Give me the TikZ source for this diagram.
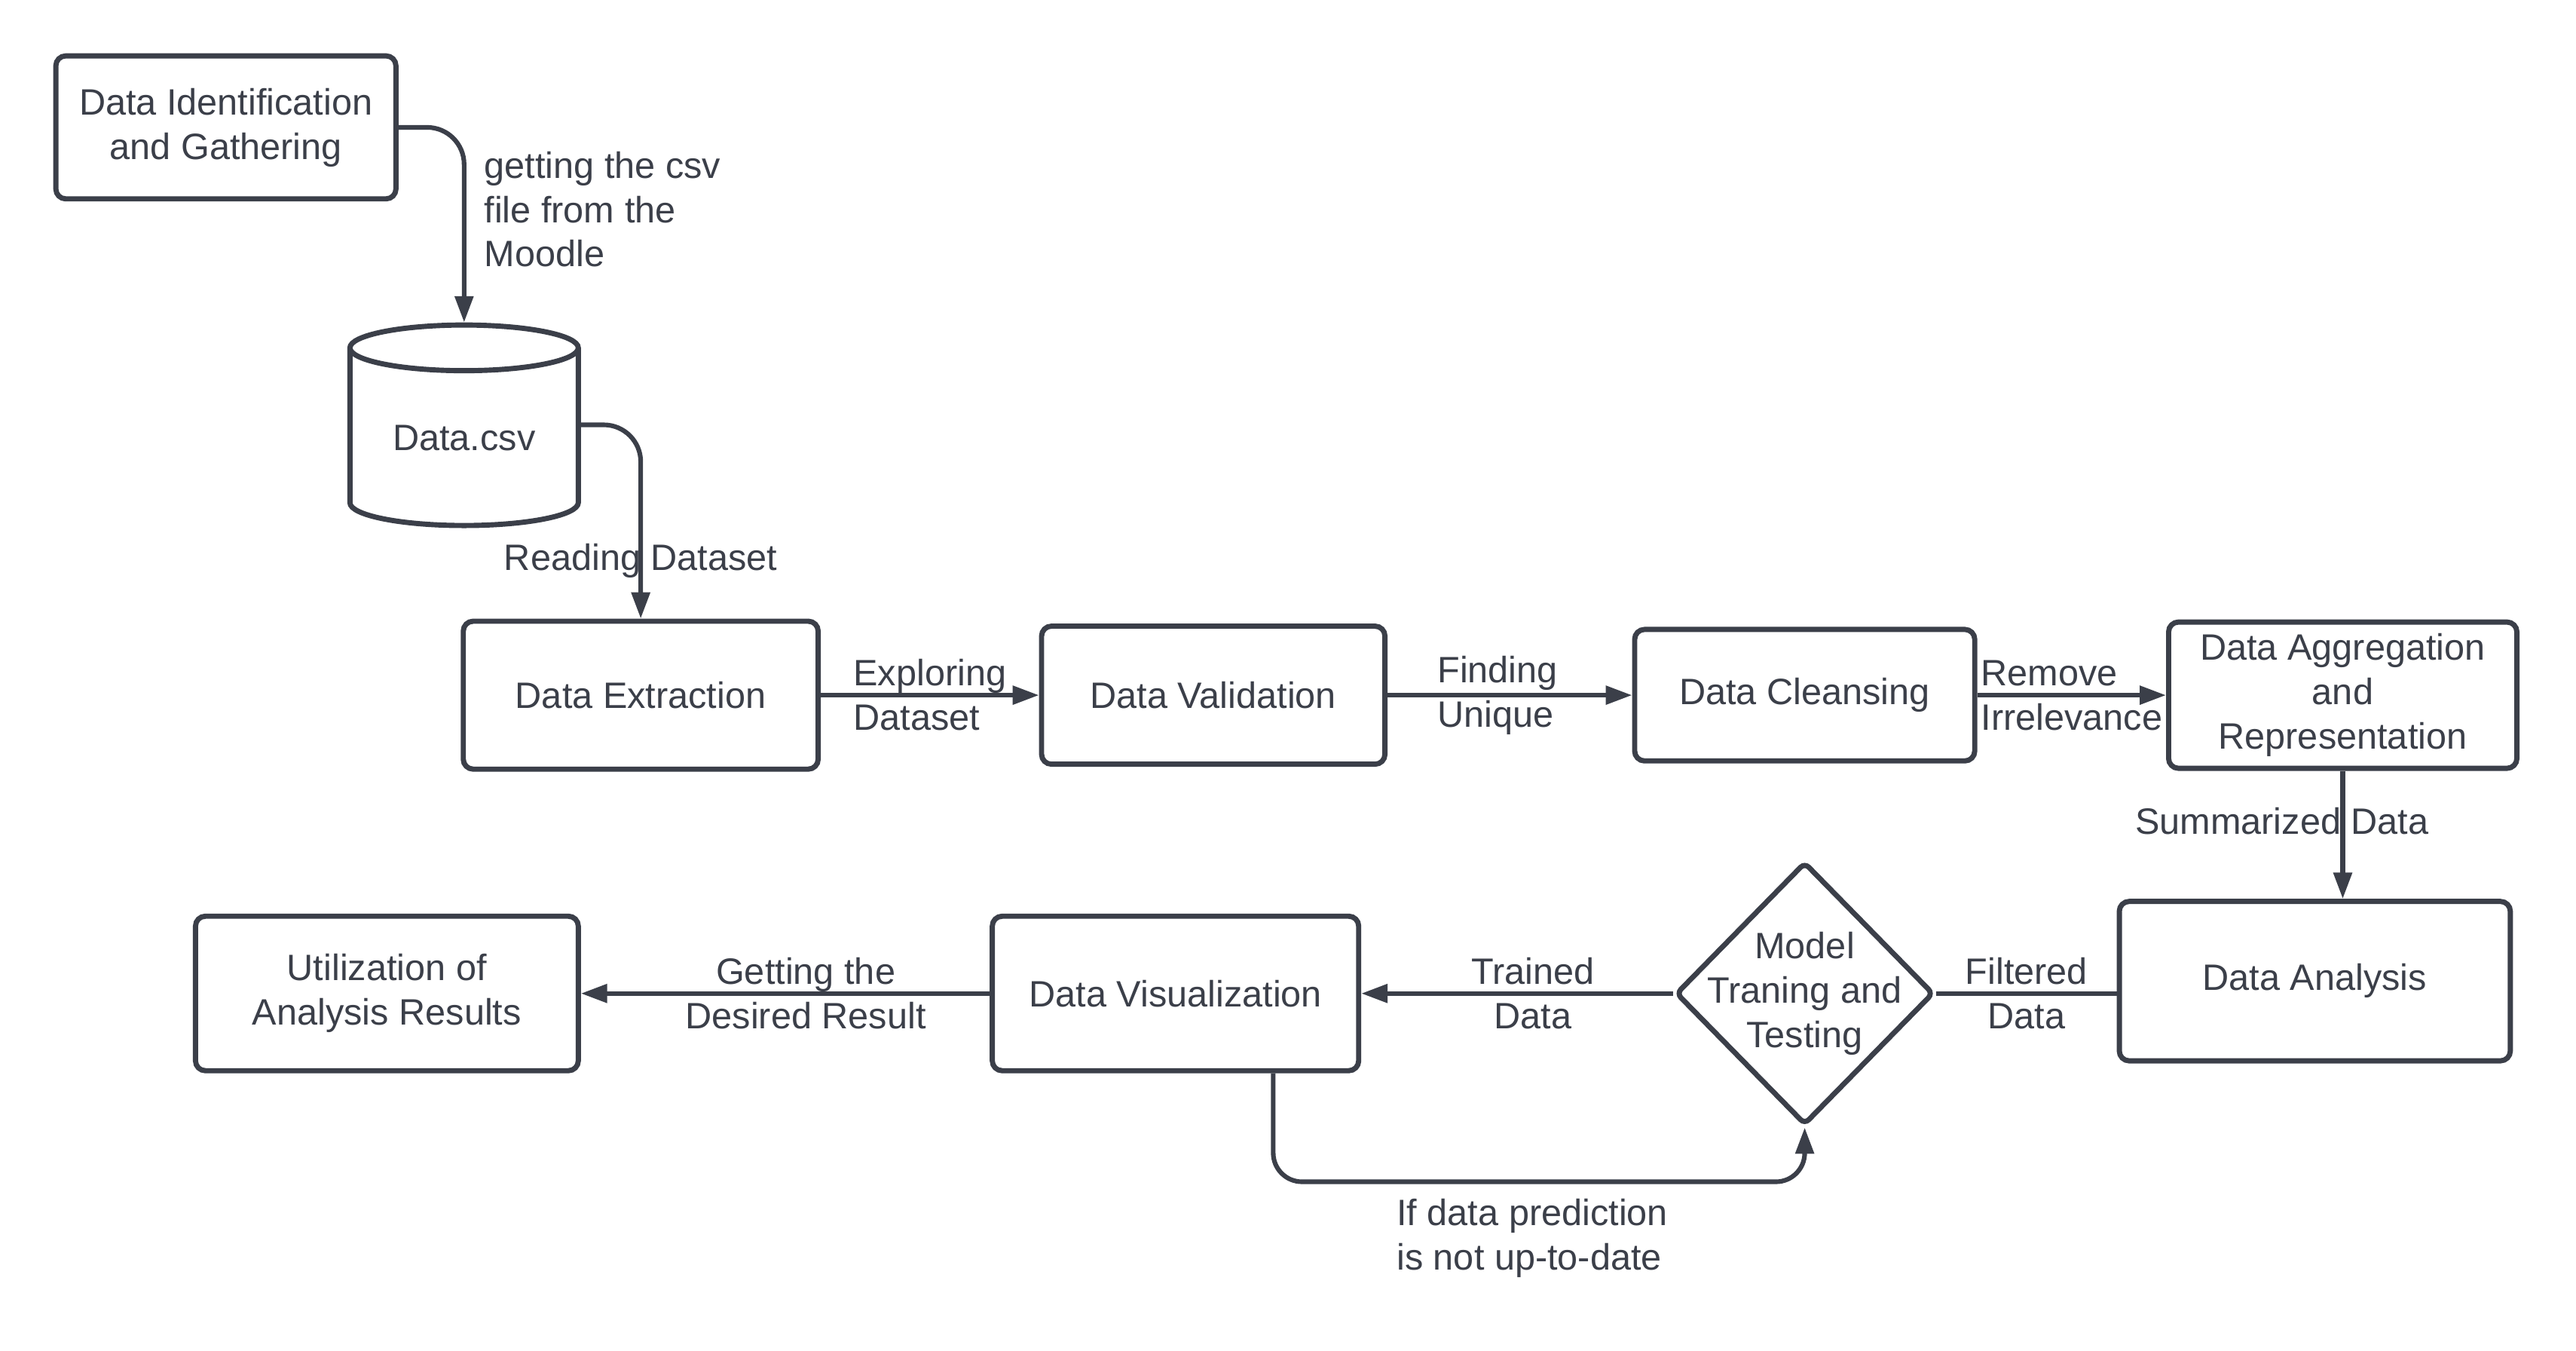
\documentclass[tikz,border=0pt]{standalone}
\usepackage{fontspec}
\setmainfont{Liberation Sans}
\usetikzlibrary{shapes.geometric, positioning, arrows.meta}
\definecolor{ink}{HTML}{3B3F49}
\tikzset{
->, % every connector is directed
>={Triangle[length=0.32cm, width=0.22cm]}, % solid triangle tips
node distance=7cm, % default distance between the centres of two steps
every node/.style={font=\fontsize{12.7}{15.4}\selectfont}, % label size
stepbox/.style={draw, rectangle, rounded corners=0.12cm, line width=1.8pt, align=center, inner sep=0pt}, % a process step
store/.style={draw, cylinder, shape border rotate=90, aspect=0.32, line width=1.8pt, minimum width=2.78cm, minimum height=2.44cm, inner sep=0pt}, % the csv file
decision/.style={draw, diamond, rounded corners=2pt, line width=1.8pt, minimum width=3.14cm, minimum height=3.2cm, inner sep=0pt}, % the model step
}
\begin{document}
\begin{tikzpicture}[color=ink, line width=1.6pt]
    \useasboundingbox (0,0) rectangle (31.36,-16.433);
            \node[stepbox, minimum width=4.14cm, minimum height=1.74cm] (ident) at (2.75,-1.55) {Data Identification\\and Gathering};
            \node[store, node distance=3.78cm, below of=ident, xshift=2.9cm] (csv) {Data.csv};
            \node[stepbox, minimum width=4.32cm, minimum height=1.8cm] (extract) at (7.8,-8.46) {Data Extraction};
            \node[stepbox, node distance=6.97cm, right of=extract, minimum width=4.18cm, minimum height=1.68cm] (valid) {Data Validation};
            \node[stepbox, node distance=7.2cm, right of=valid, minimum width=4.14cm, minimum height=1.6cm] (cleanse) {Data Cleansing};
            \node[stepbox, node distance=6.55cm, right of=cleanse, minimum width=4.24cm, minimum height=1.78cm] (aggr) {Data Aggregation\\and\\Representation};
            \node[stepbox, node distance=3.48cm, below of=aggr, xshift=-0.34cm, minimum width=4.76cm, minimum height=1.94cm] (analysis) {Data Analysis};
            \node[decision, node distance=6.21cm, left of=analysis, yshift=-0.15cm, label={[align=center]center:Model\\Traning and\\Testing}] (model) {};
            \node[stepbox, node distance=7.66cm, left of=model, minimum width=4.46cm, minimum height=1.88cm] (visual) {Data Visualization};
            \node[stepbox, node distance=9.6cm, left of=visual, minimum width=4.66cm, minimum height=1.88cm] (util) {Utilization of\\Analysis Results};
            % bent connectors at the top
            \draw[rounded corners=0.45cm] (ident.east) -| node[pos=0.71, right, xshift=0.1cm, align=left]{getting the csv\\file from the\\Moodle} (csv.north);
            \draw[rounded corners=0.45cm] ([yshift=0.16cm]csv.east) -| node[pos=0.85]{Reading Dataset} (extract.north);
            \draw
                (extract) edge node[align=left]{Exploring\\Dataset} (valid)
                (valid) edge node[align=left, pos=0.45]{Finding\\Unique} (cleanse)
                (cleanse) edge node[align=left]{Remove\\Irrelevance} (aggr)
                (aggr) edge node[xshift=-0.74cm, pos=0.39]{Summarized Data} (aggr |- analysis.north)
                (model) edge node[align=center, pos=0.45]{Trained\\Data} (visual)
                (visual) edge node[align=center, pos=0.45]{Getting the\\Desired Result} (util)
                ;
            \draw[-] (analysis.west |- model) -- node[align=center]{Filtered\\Data} (model.east);
            % feedback loop
            \draw[rounded corners=0.35cm] ([xshift=1.19cm]visual.south) |- node[pos=0.605, anchor=north west, yshift=-0.06cm, align=left]{If data prediction\\is not up-to-date} ([yshift=-0.66cm]model.south) -- (model.south);
\end{tikzpicture}
\end{document}
